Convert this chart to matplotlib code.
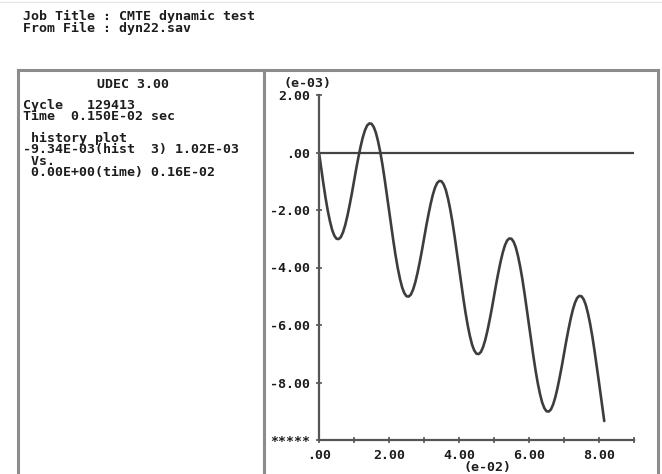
import numpy as np
import matplotlib
matplotlib.use("Agg")
from matplotlib import pyplot as plt
from matplotlib.lines import Line2D

# historique : temps (e-02), valeur (e-03)
temps = [0.0000, 0.0625, 0.1250, 0.1875, 0.2500, 0.3125, 0.3750, 0.4375,
         0.5000, 0.5625, 0.6250, 0.6875, 0.7500, 0.8125, 0.8750, 0.9375,
         1.0000, 1.0625, 1.1250, 1.1875, 1.2500, 1.3125, 1.3750, 1.4375,
         1.5000, 1.5625, 1.6250, 1.6875, 1.7500, 1.8125, 1.8750, 1.9375,
         2.0000, 2.0625, 2.1250, 2.1875, 2.2500, 2.3125, 2.3750, 2.4375,
         2.5000, 2.5625, 2.6250, 2.6875, 2.7500, 2.8125, 2.8750, 2.9375,
         3.0000, 3.0625, 3.1250, 3.1875, 3.2500, 3.3125, 3.3750, 3.4375,
         3.5000, 3.5625, 3.6250, 3.6875, 3.7500, 3.8125, 3.8750, 3.9375,
         4.0000, 4.0625, 4.1250, 4.1875, 4.2500, 4.3125, 4.3750, 4.4375,
         4.5000, 4.5625, 4.6250, 4.6875, 4.7500, 4.8125, 4.8750, 4.9375,
         5.0000, 5.0625, 5.1250, 5.1875, 5.2500, 5.3125, 5.3750, 5.4375,
         5.5000, 5.5625, 5.6250, 5.6875, 5.7500, 5.8125, 5.8750, 5.9375,
         6.0000, 6.0625, 6.1250, 6.1875, 6.2500, 6.3125, 6.3750, 6.4375,
         6.5000, 6.5625, 6.6250, 6.6875, 6.7500, 6.8125, 6.8750, 6.9375,
         7.0000, 7.0625, 7.1250, 7.1875, 7.2500, 7.3125, 7.3750, 7.4375,
         7.5000, 7.5625, 7.6250, 7.6875, 7.7500, 7.8125, 7.8750, 7.9375,
         8.0000, 8.0625, 8.1250, 8.1500]
hist3 = [0.00, -0.55, -1.08, -1.58, -2.02, -2.39, -2.69, -2.89,
         -3.00, -3.01, -2.94, -2.77, -2.52, -2.20, -1.83, -1.43,
         -1.00, -0.57, -0.17, 0.20, 0.52, 0.77, 0.94, 1.01,
         1.00, 0.89, 0.69, 0.39, 0.02, -0.42, -0.92, -1.45,
         -2.00, -2.55, -3.08, -3.58, -4.02, -4.39, -4.69, -4.89,
         -5.00, -5.01, -4.94, -4.77, -4.52, -4.20, -3.83, -3.43,
         -3.00, -2.57, -2.17, -1.80, -1.48, -1.23, -1.06, -0.99,
         -1.00, -1.11, -1.31, -1.61, -1.98, -2.42, -2.92, -3.45,
         -4.00, -4.55, -5.08, -5.58, -6.02, -6.39, -6.69, -6.89,
         -7.00, -7.01, -6.94, -6.77, -6.52, -6.20, -5.83, -5.43,
         -5.00, -4.57, -4.17, -3.80, -3.48, -3.23, -3.06, -2.99,
         -3.00, -3.11, -3.31, -3.61, -3.98, -4.42, -4.92, -5.45,
         -6.00, -6.55, -7.08, -7.58, -8.02, -8.39, -8.69, -8.89,
         -9.00, -9.01, -8.94, -8.77, -8.52, -8.20, -7.83, -7.43,
         -7.00, -6.57, -6.17, -5.80, -5.48, -5.23, -5.06, -4.99,
         -5.00, -5.11, -5.31, -5.61, -5.98, -6.42, -6.92, -7.45,
         -8.00, -8.55, -9.08, -9.34]

yticks = [2, 0, -2, -4, -6, -8, -10]
ylabels = ["2.00", ".00", "-2.00", "-4.00", "-6.00", "-8.00", "*****"]
xticks = [0, 2, 4, 6, 8]
xlabels = [".00", "2.00", "4.00", "6.00", "8.00"]

entete = "Job Title : CMTE dynamic test\nFrom File : dyn22.sav"
titre_udec = "UDEC 3.00"
bloc_cycle = "Cycle   129413\nTime  0.150E-02 sec"
bloc_hist = " history plot\n-9.34E-03(hist  3) 1.02E-03\n Vs.\n 0.00E+00(time) 0.16E-02"

W, H = 662, 474
police = "DejaVu Sans Mono"
noir = "#1c1c1c"
taille = 9.5
interligne = 0.82


def fx(x):
    return x / W


def fy(y):
    return 1 - y / H


fig = plt.figure(figsize=(W / 100, H / 100), dpi=100)

# cadre
gris = "#8c8c8c"
for xs, ys in [([18, 658], [70, 70]), ([18, 18], [70, 480]), ([658, 658], [70, 480]),
               ([264, 264], [70, 480])]:
    fig.add_artist(Line2D([fx(v) for v in xs], [fy(v) for v in ys], color=gris, lw=2.2))
fig.add_artist(Line2D([0, 1], [fy(2), fy(2)], color="#e6e6e6", lw=1))

fig.text(fx(23), fy(22.5), entete, family=police, weight="bold", fontsize=taille,
         color=noir, va="center", ha="left", linespacing=interligne)
fig.text(fx(133), fy(85), titre_udec, family=police, weight="bold", fontsize=taille,
         color=noir, va="center", ha="center")
fig.text(fx(23), fy(111), bloc_cycle, family=police, weight="bold", fontsize=taille,
         color=noir, va="center", ha="left", linespacing=interligne)
fig.text(fx(23), fy(155.5), bloc_hist, family=police, weight="bold", fontsize=taille,
         color=noir, va="center", ha="left", linespacing=interligne)

ax = fig.add_axes([fx(319), fy(440), (634 - 319) / W, (440 - 95) / H])
ax.set_xlim(0, 9)
ax.set_ylim(-10, 2)
ax.axhline(0, color="#444444", lw=1.6, xmin=0, xmax=1)
ax.plot(temps, hist3, color="#3d3d3d", lw=1.9, solid_capstyle="round")

for c in ["top", "right"]:
    ax.spines[c].set_visible(False)
for c in ["left", "bottom"]:
    ax.spines[c].set_color("#555555")
    ax.spines[c].set_linewidth(1.6)
ax.set_facecolor("none")

ax.set_yticks(yticks)
ax.set_yticklabels(ylabels)
ax.set_xticks(xticks)
ax.set_xticklabels(xlabels)
ax.set_xticks([1, 3, 5, 7, 9], minor=True)
ax.tick_params(axis="both", which="both", direction="inout", length=5, width=1.2,
               color="#555555", labelcolor=noir, pad=4)
for lab in ax.get_xticklabels() + ax.get_yticklabels():
    lab.set_family(police)
    lab.set_weight("bold")
    lab.set_fontsize(taille)

fig.text(fx(308), fy(83), "(e-03)", family=police, weight="bold", fontsize=taille,
         color=noir, va="center", ha="center")
fig.text(fx(487), fy(467), "(e-02)", family=police, weight="bold", fontsize=taille,
         color=noir, va="center", ha="center")

fig.savefig("out.png", dpi=100)
